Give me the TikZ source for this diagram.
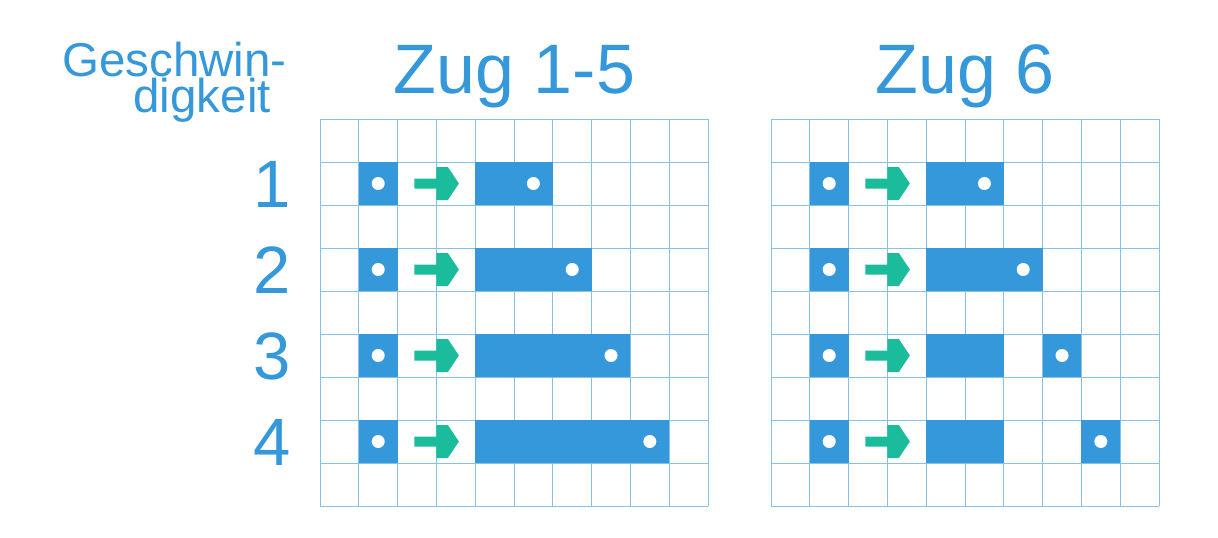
\documentclass[tikz,border=0pt]{standalone}
\usepackage{fontspec}
\setmainfont{Liberation Sans}
\definecolor{zugblue}{RGB}{52,152,219}
\definecolor{gridblue}{RGB}{133,193,233}
\definecolor{arrowgreen}{RGB}{26,188,156}
\newcommand{\cw}{38.8}
\newcommand{\ch}{43}
\tikzset{movearrow/.pic={\fill[arrowgreen] (-22,-5) -- (0,-5) -- (0,-16.5) -- (11.5,-16.5) -- (22.5,0) -- (11.5,16.5) -- (0,16.5) -- (0,5) -- (-22,5) -- cycle;}}

\begin{document}
\begin{tikzpicture}[x=1pt, y=-1pt,
  gridline/.style={draw=gridblue, line width=1pt},
  car/.style={fill=zugblue},
  wheel/.style={fill=white},
  lbl/.style={text=zugblue, inner sep=0pt}]
\useasboundingbox (0,0) rectangle (1218,538);

\node[lbl, anchor=base, font=\fontsize{70}{84}\selectfont] (title15) at (514.5,93) {Zug 1-5};
\node[lbl, anchor=base, font=\fontsize{70}{84}\selectfont] (title6) at (965,93) {Zug 6};
\node[lbl, anchor=base east, align=right, font=\fontsize{47.5}{36}\selectfont] (speed) at (271,112) {Geschwin\rlap{-}\\digkeit};
\foreach \k in {1,...,4}
  \node[lbl, anchor=base, font=\fontsize{67}{80}\selectfont] (num\k) at (272,{207.5+(\k-1)*2*\ch}) {\k};

\foreach \gx in {320,771} {
  \foreach \i in {0,...,10} \draw[gridline] (\gx+\i*\cw,119) -- (\gx+\i*\cw,506);
  \foreach \j in {0,...,9} \draw[gridline] (\gx,119+\j*\ch) -- (\gx+10*\cw,119+\j*\ch);
}

% Zug 1-5
\foreach \k in {1,...,4} {
  \pgfmathsetmacro{\rowy}{119+(2*\k-1)*\ch}
  \fill[car] (320+\cw,\rowy) rectangle ++(\cw,\ch);
  \fill[wheel] (320+1.5*\cw,\rowy+0.5*\ch) circle (6.5);
  \pic at (320+3*\cw,\rowy+0.5*\ch) {movearrow};
  \fill[car] (320+4*\cw,\rowy) rectangle (320+5*\cw+\k*\cw,\rowy+\ch);
  \fill[wheel] (320+4.5*\cw+\k*\cw,\rowy+0.5*\ch) circle (6.5);
}

% Zug 6
\foreach \k/\barend in {1/6,2/7,3/6,4/6} {
  \pgfmathsetmacro{\rowy}{119+(2*\k-1)*\ch}
  \fill[car] (771+\cw,\rowy) rectangle ++(\cw,\ch);
  \fill[wheel] (771+1.5*\cw,\rowy+0.5*\ch) circle (6.5);
  \pic at (771+3*\cw,\rowy+0.5*\ch) {movearrow};
  \fill[car] (771+4*\cw,\rowy) rectangle (771+\barend*\cw,\rowy+\ch);
  \fill[car] (771+4*\cw+\k*\cw,\rowy) rectangle ++(\cw,\ch);
  \fill[wheel] (771+4.5*\cw+\k*\cw,\rowy+0.5*\ch) circle (6.5);
}
\end{tikzpicture}
\end{document}
